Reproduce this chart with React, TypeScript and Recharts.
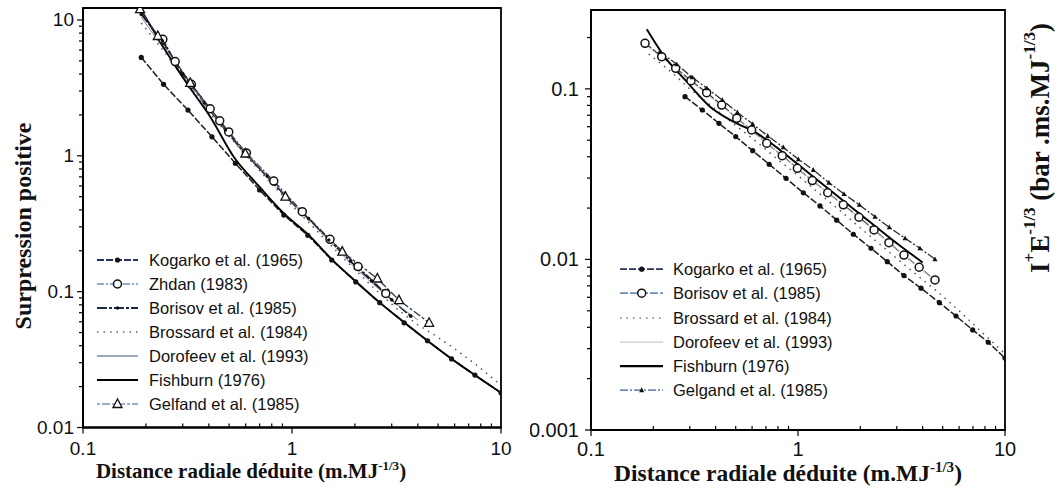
import React from 'react';
import { LineChart, Line, XAxis, YAxis, Legend, ReferenceArea } from 'recharts';

// ---------------- LEFT CHART (Surpression positive) ----------------
const kogarkoLX = [0.19, 0.243, 0.318, 0.414, 0.536, 0.70, 0.914, 1.19, 1.55, 2.02, 2.63, 3.44, 4.45, 5.8, 7.5, 10];
const kogarkoLY = [5.3, 3.36, 2.17, 1.38, 0.88, 0.56, 0.366, 0.26, 0.171, 0.118, 0.083, 0.059, 0.0435, 0.032, 0.0243, 0.018];

const zhdanLX = [0.241, 0.276, 0.33, 0.406, 0.451, 0.498, 0.605, 0.818, 1.12, 1.52, 2.07, 2.81];
const zhdanLY = [7.21, 4.94, 3.36, 2.22, 1.81, 1.5, 1.05, 0.652, 0.388, 0.243, 0.153, 0.097];

const borisovLX = [0.19, 0.24, 0.30, 0.38, 0.48, 0.60, 0.76, 0.96, 1.2, 1.5, 1.9, 2.4, 3.0, 3.7];
const borisovLY = [11.0, 7.0, 4.0, 2.45, 1.55, 1.02, 0.71, 0.48, 0.345, 0.24, 0.168, 0.12, 0.087, 0.066];

const brossardLX = [0.19, 0.25, 0.32, 0.4, 0.5, 0.63, 0.8, 1.0, 1.26, 1.6, 2.0, 2.5, 3.2, 4.0, 4.8, 6.0, 7.6, 10];
const brossardLY = [9.5, 5.6, 3.3, 2.1, 1.4, 0.93, 0.62, 0.43, 0.3, 0.205, 0.145, 0.104, 0.074, 0.057, 0.048, 0.038, 0.029, 0.0205];

const dorofeevLX = [0.19, 0.3, 0.5, 0.8, 1.2, 2.0, 3.0, 4.0];
const dorofeevLY = [10.5, 3.9, 1.45, 0.66, 0.34, 0.15, 0.086, 0.062];

const fishburnLX = [0.19, 0.226, 0.271, 0.326, 0.406, 0.526, 0.70, 0.914, 1.19, 1.55, 2.02, 2.63, 3.44, 4.45, 5.8, 7.5, 10];
const fishburnLY = [11.8, 7.54, 4.8, 3.14, 1.94, 0.985, 0.59, 0.377, 0.265, 0.173, 0.119, 0.083, 0.0595, 0.0435, 0.032, 0.0243, 0.018];

const gelfandLX = [0.1875, 0.228, 0.326, 0.598, 0.93, 1.74, 2.56, 3.25, 4.53];
const gelfandLY = [12.0, 7.62, 3.44, 1.04, 0.5, 0.197, 0.125, 0.0867, 0.059];

// ---------------- RIGHT CHART (Impulsion) ----------------
const kogarkoRX = [0.2845, 0.345, 0.415, 0.5, 0.604, 0.726, 0.875, 1.061, 1.277, 1.538, 1.85, 2.253, 2.7, 3.25, 3.93, 4.82, 5.8, 6.98, 8.3, 10];
const kogarkoRY = [0.09, 0.0752, 0.0628, 0.0525, 0.0434, 0.0361, 0.0299, 0.0246, 0.0206, 0.017, 0.01405, 0.01163, 0.0097, 0.00804, 0.00678, 0.00558, 0.00466, 0.00386, 0.00327, 0.00264];

const borisovRX = [0.1824, 0.2195, 0.2565, 0.304, 0.362, 0.428, 0.506, 0.597, 0.706, 0.839, 0.993, 1.173, 1.392, 1.655, 1.97, 2.33, 2.75, 3.25, 3.85, 4.59];
const borisovRY = [0.185, 0.1545, 0.132, 0.1117, 0.095, 0.0804, 0.0672, 0.0574, 0.048, 0.0406, 0.0342, 0.029, 0.0246, 0.0209, 0.01767, 0.0149, 0.01254, 0.0106, 0.009, 0.00758];

const brossardRX = [0.19, 0.24, 0.3, 0.4, 0.5, 0.63, 0.8, 1.0, 1.26, 1.6, 2.0, 2.5, 3.2, 4.0, 4.82, 6.0, 8.0, 10];
const brossardRY = [0.16, 0.128, 0.1, 0.076, 0.061, 0.049, 0.0385, 0.031, 0.0245, 0.0193, 0.0153, 0.0122, 0.0095, 0.0076, 0.00634, 0.005, 0.0036, 0.0028];

const dorofeevRX = [0.19, 0.3, 0.5, 1.0, 2.0, 4.5];
const dorofeevRY = [0.175, 0.112, 0.068, 0.034, 0.0172, 0.0077];

const fishburnRX = [0.186, 0.2235, 0.29, 0.376, 0.487, 0.632, 0.818, 0.986, 1.427, 2.07, 3.0, 4.0];
const fishburnRY = [0.2235, 0.158, 0.1102, 0.0786, 0.0642, 0.055, 0.0438, 0.0366, 0.0255, 0.0178, 0.01244, 0.0096];

const gelgandRX = [0.215, 0.2595, 0.3076, 0.363, 0.431, 0.509, 0.604, 0.714, 0.849, 1.004, 1.186, 1.41, 1.668, 1.978, 2.355, 2.76, 3.29, 3.88, 4.59];
const gelgandRY = [0.165, 0.1394, 0.117, 0.1008, 0.086, 0.0729, 0.0622, 0.053, 0.0454, 0.0387, 0.0335, 0.0282, 0.0242, 0.0209, 0.0178, 0.01543, 0.0133, 0.01163, 0.01003];

// ---------------- TICKS ----------------
const leftXTicks = [0.1, 0.2, 0.3, 0.4, 0.5, 0.6, 0.7, 0.8, 0.9, 1, 2, 3, 4, 5, 6, 7, 8, 9, 10];
const leftYTicks = [0.01, 0.02, 0.03, 0.04, 0.05, 0.06, 0.07, 0.08, 0.09, 0.1, 0.2, 0.3, 0.4, 0.5, 0.6, 0.7, 0.8, 0.9, 1, 2, 3, 4, 5, 6, 7, 8, 9, 10];
const rightXTicks = leftXTicks;
const rightYTicks = [0.001, 0.002, 0.003, 0.004, 0.005, 0.006, 0.007, 0.008, 0.009, 0.01, 0.02, 0.03, 0.04, 0.05, 0.06, 0.07, 0.08, 0.09, 0.1, 0.2];

const leftXDomain = [0.1, 10];
const leftYDomain = [0.01, 12.25];
const rightXDomain = [0.1, 10];
const rightYDomain = [0.001, 0.29];

const pts = (xs: number[], ys: number[]) => xs.map((x, i) => ({ x, y: ys[i] }));

type Sty = { stroke: string; legendStroke: string; dash: string; width: number; marker: string };
const STY: Record<string, Sty> = {
  kogarko: { stroke: '#1b1f2a', legendStroke: '#26345a', dash: '7 2', width: 1.5, marker: 'dot' },
  zhdan: { stroke: '#2a3240', legendStroke: '#6f8fb8', dash: '7 2 2 2', width: 1.3, marker: 'circle' },
  borisovL: { stroke: '#111622', legendStroke: '#1d2a44', dash: '10 2 3 2', width: 1.6, marker: 'smalldot' },
  borisovR: { stroke: '#262c38', legendStroke: '#6f8fb8', dash: '8 2', width: 1.3, marker: 'circle' },
  brossard: { stroke: '#555', legendStroke: '#8a8a8a', dash: '1.5 5', width: 1.5, marker: 'none' },
  dorofeevL: { stroke: '#7d8a9c', legendStroke: '#7d8a9c', dash: '', width: 1, marker: 'none' },
  dorofeevR: { stroke: '#c5ccd6', legendStroke: '#c5ccd6', dash: '', width: 1, marker: 'none' },
  fishburn: { stroke: '#000', legendStroke: '#000', dash: '', width: 1.9, marker: 'none' },
  gelfand: { stroke: '#2e3644', legendStroke: '#7d93b3', dash: '3 2 8 2', width: 1.3, marker: 'triangle' },
  gelgand: { stroke: '#262c38', legendStroke: '#6f8fb8', dash: '8 2 2 2', width: 1.3, marker: 'smalltri' },
};

const leftSeries = [
  { name: 'Kogarko et al. (1965)', sty: 'kogarko', data: pts(kogarkoLX, kogarkoLY) },
  { name: 'Zhdan (1983)', sty: 'zhdan', data: pts(zhdanLX, zhdanLY) },
  { name: 'Borisov et al. (1985)', sty: 'borisovL', data: pts(borisovLX, borisovLY) },
  { name: 'Brossard et al. (1984)', sty: 'brossard', data: pts(brossardLX, brossardLY) },
  { name: 'Dorofeev et al. (1993)', sty: 'dorofeevL', data: pts(dorofeevLX, dorofeevLY) },
  { name: 'Fishburn (1976)', sty: 'fishburn', data: pts(fishburnLX, fishburnLY) },
  { name: 'Gelfand et al. (1985)', sty: 'gelfand', data: pts(gelfandLX, gelfandLY) },
];

const rightSeries = [
  { name: 'Kogarko et al. (1965)', sty: 'kogarko', data: pts(kogarkoRX, kogarkoRY) },
  { name: 'Borisov et al. (1985)', sty: 'borisovR', data: pts(borisovRX, borisovRY) },
  { name: 'Brossard et al. (1984)', sty: 'brossard', data: pts(brossardRX, brossardRY) },
  { name: 'Dorofeev et al. (1993)', sty: 'dorofeevR', data: pts(dorofeevRX, dorofeevRY) },
  { name: 'Fishburn (1976)', sty: 'fishburn', data: pts(fishburnRX, fishburnRY) },
  { name: 'Gelgand et al. (1985)', sty: 'gelgand', data: pts(gelgandRX, gelgandRY) },
];

const SANS = '"Liberation Sans", Arial, Helvetica, sans-serif';
const SERIF = '"Liberation Serif", "Times New Roman", Times, serif';

function Marker({ kind, cx, cy }: { kind: string; cx: number; cy: number }) {
  if (cx == null || cy == null || isNaN(cx) || isNaN(cy)) return null;
  switch (kind) {
    case 'dot':
      return <circle cx={cx} cy={cy} r={2.6} fill="#111" />;
    case 'smalldot':
      return <circle cx={cx} cy={cy} r={1.8} fill="#111" />;
    case 'circle':
      return <circle cx={cx} cy={cy} r={4} fill="#fff" stroke="#111" strokeWidth={1.5} />;
    case 'triangle':
      return <polygon points={`${cx},${cy - 5} ${cx - 4.5},${cy + 3.5} ${cx + 4.5},${cy + 3.5}`} fill="#fff" stroke="#111" strokeWidth={1.3} />;
    case 'smalltri':
      return <polygon points={`${cx},${cy - 2.8} ${cx - 2.5},${cy + 2} ${cx + 2.5},${cy + 2}`} fill="#111" />;
    default:
      return null;
  }
}

const isDecade = (v: number) => Math.abs(Math.log10(v) - Math.round(Math.log10(v))) < 1e-6;

function makeXTick(fontSize: number, labelDy: number) {
  return (props: any) => {
    const { x, y, payload } = props;
    const v = payload.value as number;
    const major = isDecade(v);
    return (
      <g>
        <line x1={x} x2={x} y1={y} y2={major ? y + 6 : y - 4} stroke="#000" strokeWidth={1.2} />
        {major && (
          <text x={x} y={y + labelDy} textAnchor="middle" dominantBaseline="central" fontFamily={SANS} fontSize={fontSize} fill="#111">
            {String(v)}
          </text>
        )}
      </g>
    );
  };
}

function makeYTick(fontSize: number, gap: number) {
  return (props: any) => {
    const { x, y, payload } = props;
    const v = payload.value as number;
    const major = isDecade(v);
    return (
      <g>
        <line x1={x} x2={x - (major ? 6 : 4)} y1={y} y2={y} stroke="#000" strokeWidth={1.2} />
        {major && (
          <text x={x - gap} y={y} textAnchor="end" dominantBaseline="central" fontFamily={SANS} fontSize={fontSize} fill="#111">
            {String(v)}
          </text>
        )}
      </g>
    );
  };
}

function XTitle({ viewBox, dx, baseline, fontSize }: any) {
  const cx = viewBox.x + viewBox.width / 2 + dx;
  const sup = Math.round(fontSize * 0.62);
  return (
    <text x={cx} y={baseline} textAnchor="middle" fontFamily={SERIF} fontWeight="bold" fontSize={fontSize} fill="#111">
      Distance radiale déduite (m.MJ
      <tspan dy={-fontSize * 0.4} fontSize={sup}>-1/3</tspan>
      <tspan dy={fontSize * 0.4}>)</tspan>
    </text>
  );
}

function LeftYTitle({ cx, cy, fontSize }: any) {
  return (
    <text x={cx} y={cy} transform={`rotate(-90, ${cx}, ${cy})`} textAnchor="middle" dominantBaseline="central" fontFamily={SERIF} fontWeight="bold" fontSize={fontSize} fill="#111">
      Surpression positive
    </text>
  );
}

function RightYTitle({ cx, cy, fontSize }: any) {
  const sup = Math.round(fontSize * 0.62);
  const up = fontSize * 0.4;
  return (
    <text x={cx} y={cy} transform={`rotate(-90, ${cx}, ${cy})`} textAnchor="middle" dominantBaseline="central" fontFamily={SERIF} fontWeight="bold" fontSize={fontSize} fill="#111">
      I<tspan dy={-up} fontSize={sup}>+</tspan>
      <tspan dy={up}>E</tspan>
      <tspan dy={-up} fontSize={sup}>-1/3</tspan>
      <tspan dy={up}> (bar .ms.MJ</tspan>
      <tspan dy={-up} fontSize={sup}>-1/3</tspan>
      <tspan dy={up}>)</tspan>
    </text>
  );
}

function makeLegend(series: { name: string; sty: string }[], rowH: number, sampleW: number, markerX: number, textGap: number, fontSize: number) {
  return (props: any) => {
    const payload = [...(props.payload || [])];
    const idx = (v: string) => series.findIndex((s) => s.name === v);
    payload.sort((a: any, b: any) => idx(a.value) - idx(b.value));
    return (
      <div style={{ fontFamily: SANS, fontSize, color: '#111' }}>
        {payload.map((e: any, i: number) => {
          const ser = series.find((s) => s.name === e.value);
          const s = STY[ser ? ser.sty : 'fishburn'];
          return (
            <div key={i} style={{ display: 'flex', alignItems: 'center', height: rowH, whiteSpace: 'nowrap' }}>
              <svg width={sampleW + 4} height={rowH} style={{ display: 'block', flex: 'none' }}>
                <line x1={2} x2={sampleW + 2} y1={rowH / 2} y2={rowH / 2} stroke={s.legendStroke} strokeWidth={s.width + 0.3} strokeDasharray={s.dash || undefined} />
                <Marker kind={s.marker} cx={markerX} cy={rowH / 2} />
              </svg>
              <span style={{ marginLeft: textGap, lineHeight: `${rowH}px` }}>{e.value}</span>
            </div>
          );
        })}
      </div>
    );
  };
}

function renderLines(series: { name: string; sty: string; data: { x: number; y: number }[] }[]) {
  return series.map((ser) => {
    const s = STY[ser.sty];
    return (
      <Line
        key={ser.name}
        name={ser.name}
        data={ser.data}
        dataKey="y"
        type={ser.sty === 'fishburn' ? 'monotone' : 'linear'}
        stroke={s.stroke}
        strokeWidth={s.width}
        strokeDasharray={s.dash || undefined}
        isAnimationActive={false}
        activeDot={false}
        dot={(p: any) => <Marker key={`${ser.name}-${p.index}`} kind={s.marker} cx={p.cx} cy={p.cy} />}
      />
    );
  });
}

function LeftChart() {
  return (
    <LineChart width={530} height={488} margin={{ top: 8, right: 29, bottom: 0.5, left: 0 }}>
      <XAxis
        dataKey="x"
        type="number"
        scale="log"
        domain={leftXDomain}
        ticks={leftXTicks}
        interval={0}
        allowDataOverflow
        height={60}
        tickSize={0}
        tickMargin={0}
        tickLine={false}
        axisLine={{ stroke: '#000', strokeWidth: 1.8 }}
        tick={makeXTick(19, 21)}
        label={{ content: (p: any) => <XTitle viewBox={p.viewBox} dx={-41} baseline={478} fontSize={21} /> }}
      />
      <YAxis
        type="number"
        scale="log"
        domain={leftYDomain}
        ticks={leftYTicks}
        interval={0}
        allowDataOverflow
        width={83}
        tickSize={0}
        tickMargin={0}
        tickLine={false}
        axisLine={{ stroke: '#000', strokeWidth: 1.8 }}
        tick={makeYTick(19, 9)}
        label={{ content: () => <LeftYTitle cx={23} cy={226} fontSize={24} /> }}
      />
      <ReferenceArea x1={0.1} x2={10} y1={0.01} y2={12.25} fill="none" stroke="#000" strokeWidth={1.8} ifOverflow="visible" />
      {renderLines(leftSeries)}
      <Legend
        layout="vertical"
        align="center"
        verticalAlign="middle"
        wrapperStyle={{ left: 95, top: 248, width: 300 }}
        content={makeLegend(leftSeries, 24, 41, 22.5, 9, 16.5)}
      />
    </LineChart>
  );
}

function RightChart() {
  return (
    <LineChart width={531} height={488} margin={{ top: 10, right: 0, bottom: 0, left: 0 }}>
      <XAxis
        dataKey="x"
        type="number"
        scale="log"
        domain={rightXDomain}
        ticks={rightXTicks}
        interval={0}
        allowDataOverflow
        height={58}
        tickSize={0}
        tickMargin={0}
        tickLine={false}
        axisLine={{ stroke: '#000', strokeWidth: 1.8 }}
        tick={makeXTick(20, 19)}
        label={{ content: (p: any) => <XTitle viewBox={p.viewBox} dx={-10} baseline={481} fontSize={23.5} /> }}
      />
      <YAxis
        type="number"
        scale="log"
        domain={rightYDomain}
        ticks={rightYTicks}
        interval={0}
        allowDataOverflow
        width={61}
        tickSize={0}
        tickMargin={0}
        tickLine={false}
        axisLine={{ stroke: '#000', strokeWidth: 1.8 }}
        tick={makeYTick(20, 12)}
      />
      <YAxis
        yAxisId="r"
        orientation="right"
        type="number"
        scale="log"
        domain={rightYDomain}
        width={56}
        tick={false}
        tickLine={false}
        axisLine={false}
        label={{ content: () => <RightYTitle cx={510} cy={148} fontSize={27} /> }}
      />
      <ReferenceArea x1={0.1} x2={10} y1={0.001} y2={0.29} fill="none" stroke="#000" strokeWidth={1.8} ifOverflow="visible" />
      {renderLines(rightSeries)}
      <Legend
        layout="vertical"
        align="center"
        verticalAlign="middle"
        wrapperStyle={{ left: 88, top: 257, width: 300 }}
        content={makeLegend(rightSeries, 24.3, 43, 23.7, 8, 16.5)}
      />
    </LineChart>
  );
}

export default function App() {
  return (
    <div style={{ position: 'absolute', left: 0, top: 0, width: 1061, height: 488, background: '#fff', overflow: 'hidden' }}>
      <div style={{ position: 'absolute', left: 0, top: 0, width: 530, height: 488 }}>
        <LeftChart />
      </div>
      <div style={{ position: 'absolute', left: 530, top: 0, width: 531, height: 488 }}>
        <RightChart />
      </div>
    </div>
  );
}
